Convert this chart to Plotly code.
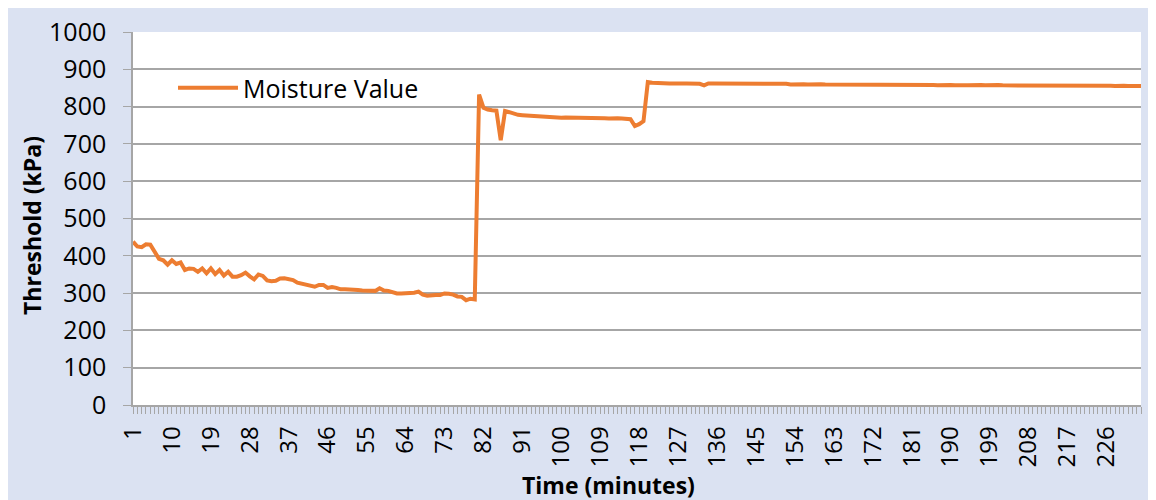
import plotly.graph_objects as go

# ---- data -------------------------------------------------------------
moisture_phase1 = [
    438, 425, 423, 431, 430, 412, 392, 388, 376, 388,
    378, 382, 362, 366, 365, 357, 366, 353, 366, 351,
    362, 347, 357, 344, 344, 348, 355, 345, 337, 350,
    346, 334, 332, 333, 339, 340, 337, 335, 328, 325,
    323, 321, 317, 322, 322, 314, 316, 314, 310, 310,
    310, 309, 308, 307, 306, 306, 306, 313, 307, 306,
    303, 299, 299, 299, 299, 301, 304, 296, 293, 295,
    295, 295, 299, 298, 296, 291, 290, 281, 285, 283,
]
moisture_phase2 = [
    832, 797, 792, 790, 789, 710, 788, 785, 781, 778,
    777, 776, 775, 774, 773, 772, 771, 770, 770, 770,
    771, 771, 771, 771, 771, 770, 770, 769, 770, 769,
    768, 769, 769, 768, 767, 766, 748, 753, 761,
]
moisture_phase3 = [
    866, 864, 863, 863, 862, 862, 862, 863, 862, 862,
    861, 861, 861, 857, 862, 862, 862, 861, 862, 861,
    861, 861, 860, 861, 861, 860, 861, 860, 861, 860,
    860, 860, 861, 859, 860, 860, 860, 859, 860, 860,
    860, 859, 859, 860, 860, 859, 860, 859, 858, 859,
    859, 859, 858, 859, 859, 858, 858, 859, 858, 859,
    859, 858, 858, 858, 859, 858, 858, 857, 858, 858,
    858, 857, 858, 857, 857, 858, 857, 858, 857, 858,
    859, 858, 857, 857, 856, 857, 857, 857, 856, 857,
    857, 856, 857, 857, 856, 856, 857, 857, 856, 857,
    858, 856, 856, 856, 857, 856, 856, 856, 855, 856,
    856, 855, 855, 856, 855,
]
moisture = moisture_phase1 + moisture_phase2 + moisture_phase3
minutes = list(range(1, len(moisture) + 1))

x_tick_vals = list(range(1, len(moisture) + 1, 9))
x_tick_text = [str(v) for v in x_tick_vals]
y_tick_vals = list(range(0, 1001, 100))

series_name = "Moisture Value"
x_title = "Time (minutes)"
y_title = "Threshold (kPa)"

# ---- style ------------------------------------------------------------
BLUE_BG = "#dbe2f2"
GRID = "#a6a6a6"
ORANGE = "#ed7d31"
FONT = "Open Sans"

# page body has an 8px margin, so screen position = figure position + 8
OFF = 8
W, H = 1156, 500
L, T = 133 - OFF, 32 - OFF
R = W - (1141 - OFF)
B = H - (405 - OFF)
pw, ph = W - L - R, H - T - B


def px_x(p):
    return (p - OFF - L) / pw


def px_y(p):
    return (H - B - (p - OFF)) / ph


fig = go.Figure()
fig.add_trace(go.Scatter(
    x=minutes, y=moisture, mode="lines", name=series_name,
    line=dict(color=ORANGE, width=4),
))

fig.update_layout(
    width=W, height=H,
    margin=dict(l=L, r=R, t=T, b=B, autoexpand=False),
    paper_bgcolor=BLUE_BG,
    plot_bgcolor="white",
    font=dict(family=FONT, size=24, color="#000000"),
    showlegend=True,
    legend=dict(
        x=px_x(173), y=px_y(88), xanchor="left", yanchor="middle",
        bgcolor="rgba(0,0,0,0)", font=dict(size=25, family=FONT),
        itemwidth=60,
    ),
    xaxis=dict(
        type="linear", range=[1, len(moisture)],
        tickmode="array", tickvals=x_tick_vals, ticktext=x_tick_text,
        tickangle=-90, ticks="outside", ticklen=7, tickcolor=GRID,
        tickfont=dict(size=24, family=FONT), ticklabelstandoff=3,
        showline=True, linecolor=GRID, linewidth=1.5,
        showgrid=False, zeroline=False,
        minor=dict(dtick=1, tick0=1, ticks="outside", ticklen=7,
                   tickcolor=GRID, showgrid=False),
        automargin=False,
    ),
    yaxis=dict(
        range=[0, 1000], tickmode="array", tickvals=y_tick_vals,
        ticks="outside", ticklen=8, tickcolor=GRID,
        tickfont=dict(size=25, family=FONT), ticklabelstandoff=12,
        showline=True, linecolor=GRID, linewidth=1.5,
        showgrid=True, gridcolor=GRID, gridwidth=1.5,
        zeroline=False, automargin=False,
    ),
    annotations=[
        dict(text=f"<b>{x_title}</b>", xref="paper", yref="paper",
             x=px_x(608), y=px_y(485), xanchor="center", yanchor="middle",
             showarrow=False, font=dict(size=23, family=FONT)),
        dict(text=f"<b>{y_title}</b>", xref="paper", yref="paper",
             x=px_x(32), y=px_y(226), xanchor="center", yanchor="middle",
             textangle=-90, showarrow=False, font=dict(size=23, family=FONT)),
    ],
)

fig.write_html("out.html")
